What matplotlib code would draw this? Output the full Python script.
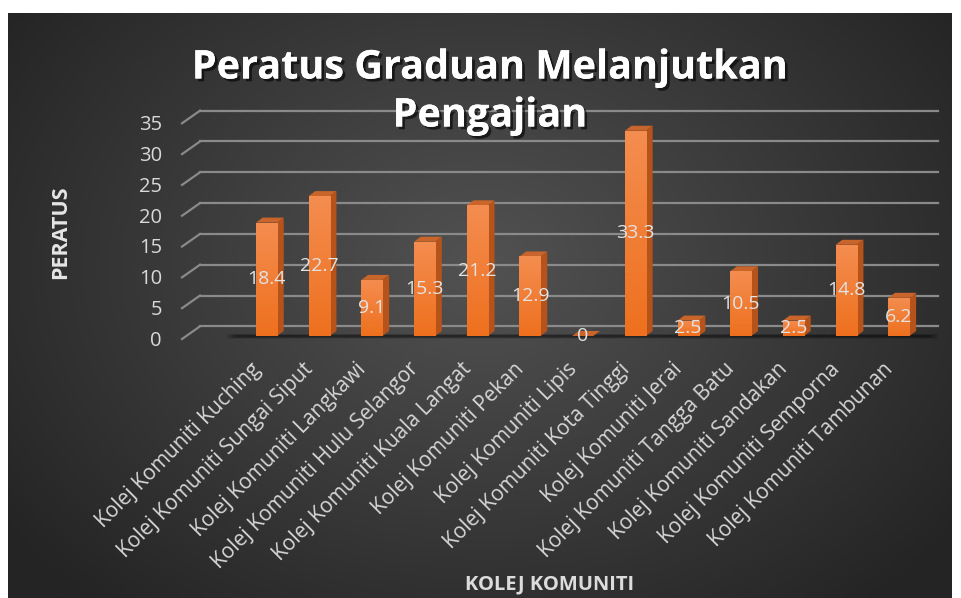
import numpy as np
import matplotlib
matplotlib.use("Agg")
import matplotlib.pyplot as plt
from matplotlib.patches import Polygon, Rectangle
import matplotlib.patheffects as pe

# data
kolej = ["Kolej Komuniti Kuching", "Kolej Komuniti Sungai Siput", "Kolej Komuniti Langkawi",
         "Kolej Komuniti Hulu Selangor", "Kolej Komuniti Kuala Langat", "Kolej Komuniti Pekan",
         "Kolej Komuniti Lipis", "Kolej Komuniti Kota Tinggi", "Kolej Komuniti Jerai",
         "Kolej Komuniti Tangga Batu", "Kolej Komuniti Sandakan", "Kolej Komuniti Semporna",
         "Kolej Komuniti Tambunan"]
peratus = [18.4, 22.7, 9.1, 15.3, 21.2, 12.9, 0, 33.3, 2.5, 10.5, 2.5, 14.8, 6.2]
yticks = [0, 5, 10, 15, 20, 25, 30, 35]

FONT = "Open Sans"
W, H = 961, 598

fig = plt.figure(figsize=(W / 100, H / 100), dpi=100)
fig.patch.set_facecolor("white")

# dark radial background panel
bg = fig.add_axes([8 / W, 0, (952 - 8) / W, (H - 13) / H])
yy, xx = np.mgrid[0:300, 0:480]
cx, cy = 240, 130
r = np.sqrt(((xx - cx) / 300.0) ** 2 + ((yy - cy) / 230.0) ** 2)
r = np.clip(r, 0, 1)
c0 = np.array([0x52, 0x52, 0x52]) / 255
c1 = np.array([0x24, 0x24, 0x24]) / 255
img = c0[None, None, :] * (1 - r[..., None]) + c1[None, None, :] * r[..., None]
bg.imshow(img, aspect="auto", extent=[0, 1, 0, 1], origin="upper")
bg.axis("off")

# main plot axes (pixel layout of the front plane)
px_left, px_right, px_top, px_bot = 150, 950, 100, 345
cat0, catw = 266.5, 52.7      # pixel centre of first bar, pixel step
y0px, ppu = 339, 6.163        # pixel of value 0, pixels per unit
ax = fig.add_axes([px_left / W, (H - px_bot) / H, (px_right - px_left) / W, (px_bot - px_top) / H])
ax.set_xlim((px_left - cat0) / catw, (px_right - cat0) / catw)
ax.set_ylim((y0px - px_bot) / ppu, (y0px - px_top) / ppu)
ax.axis("off")
ax.patch.set_alpha(0)

# 3D grid (left wall diagonals + back lines)
gx_front = (182 - cat0) / catw
gx_back = (200 - cat0) / catw
gx_end = (938 - cat0) / catw
gdy = 2.05
for v in yticks:
    ax.plot([gx_front, gx_back], [v, v + gdy], color="#8a8a8a", lw=1.6, clip_on=False, zorder=1)
    ax.plot([gx_back, gx_end], [v + gdy, v + gdy], color="#8a8a8a", lw=1.6, clip_on=False, zorder=1)
    ax.text(gx_front - 0.38, v - 0.3, str(v), ha="right", va="center", color="#d9d9d9",
            fontsize=14.5, family=FONT)

# floor shadow
x = np.arange(len(peratus))
base = 0.49
for k, a in enumerate([0.10, 0.12, 0.15, 0.2]):
    ax.add_patch(Polygon([[-0.75 + k * 0.05, base - 0.5 + k * 0.12], [12.75 - k * 0.05, base - 0.5 + k * 0.12],
                          [12.75 - k * 0.05, base + 0.4 - k * 0.1], [-0.75 + k * 0.05, base + 0.4 - k * 0.1]],
                         closed=True, color="black", alpha=a, lw=0, zorder=2))

# bars
bw = 0.40
sdx, sdy = 0.127, 0.81
grad = np.linspace(0, 1, 100)[:, None]
top_c = np.array([0xF4, 0x8D, 0x50]) / 255
bot_c = np.array([0xEE, 0x70, 0x1E]) / 255
bar_img = top_c[None, None, :] * (1 - grad[..., None]) + bot_c[None, None, :] * grad[..., None]
for i, v in enumerate(peratus):
    l, rr = i - bw / 2, i + bw / 2
    b, t = base, base + v
    # side face
    ax.add_patch(Polygon([[rr, b], [rr + sdx, b + sdy], [rr + sdx, t + sdy], [rr, t]],
                         closed=True, facecolor="#B5531A", edgecolor="none", zorder=3))
    # top face
    ax.add_patch(Polygon([[l, t], [rr, t], [rr + sdx, t + sdy], [l + sdx, t + sdy]],
                         closed=True, facecolor="#C9652B", edgecolor="none", zorder=3))
    if v > 0:
        rect = Rectangle((l, b), bw, v, facecolor="none", edgecolor="none")
        ax.add_patch(rect)
        im = ax.imshow(bar_img, extent=[l, rr, b, t], aspect="auto", zorder=4, origin="upper")
        im.set_clip_path(rect)
    ax.text(i, b + v / 2, f"{v:g}", ha="center", va="center", color="#e3e3e3",
            fontsize=14, family=FONT, zorder=6)
    # category label
    ax.text(i - 0.17, -4.4, kolej[i], rotation=45, rotation_mode="anchor", ha="right", va="center",
            color="#d6d6d6", fontsize=15, family=FONT)

# titles
shadow = [pe.withSimplePatchShadow(offset=(2, -2), shadow_rgbFace="black", alpha=0.6), pe.Normal()]
fig.text(490 / W, 1 - 92 / H, "Peratus Graduan Melanjutkan\nPengajian", ha="center", va="center",
         color="white", fontsize=28.5, fontweight="bold", family=FONT, linespacing=1.3,
         path_effects=shadow)
fig.text(61 / W, 1 - 232 / H, "PERATUS", rotation=90, ha="center", va="center", color="#e6e6e6",
         fontsize=15.5, fontweight="bold", family=FONT)
fig.text(550 / W, 1 - 584 / H, "KOLEJ KOMUNITI", ha="center", va="center", color="#dcdcdc",
         fontsize=14.5, fontweight="bold", family=FONT)

fig.savefig("out.png", dpi=100, facecolor=fig.get_facecolor())
